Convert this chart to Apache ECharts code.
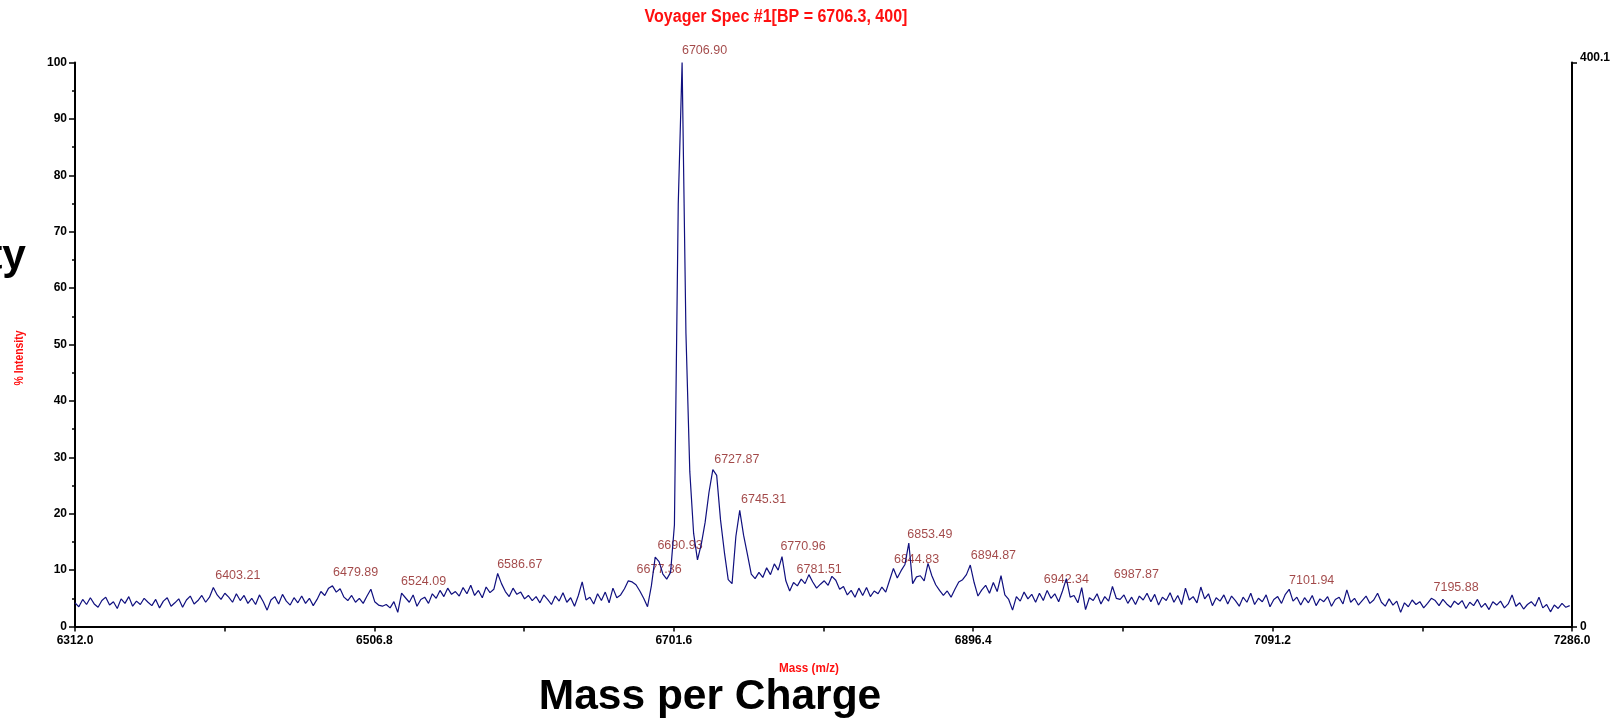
<!DOCTYPE html>
<html>
<head>
<meta charset="utf-8">
<script src="https://cdn.jsdelivr.net/npm/echarts@6/dist/echarts.min.js"></script>
<style>
    html, body { margin: 0; padding: 0; background: #fff; }
    #chart { width: 1614px; height: 720px; }
</style>
</head>
<body>
<div id="chart"></div>
<script>
// spectrum sampled every 2.5 m/z from 6312.0
const mzStart = 6312;
const mzStep = 2.5;
const intensity = [
    4.2, 3.5, 4.8, 3.9, 5.1, 4.0, 3.4, 4.6, 5.2, 3.8, 4.4, 3.2, 4.9, 4.1, 5.3, 3.6, 4.5, 3.9, 5.0, 4.3,
    3.7, 4.8, 3.3, 4.5, 5.1, 3.6, 4.2, 4.9, 3.4, 4.7, 5.4, 4.0, 4.6, 5.5, 4.3, 5.2, 6.9, 5.6, 4.8, 5.9,
    5.2, 4.3, 5.8, 4.6, 5.5, 4.1, 5.0, 3.9, 5.6, 4.4, 2.9, 4.7, 5.3, 4.0, 5.7, 4.5, 3.8, 5.1, 4.2, 5.4,
    4.1, 5.0, 3.7, 4.8, 6.2, 5.5, 6.8, 7.2, 6.1, 6.7, 5.2, 4.6, 5.5, 4.3, 5.0, 4.1, 5.4, 6.6, 4.4, 3.8,
    3.6, 3.9, 3.3, 4.4, 2.5, 5.9, 5.1, 4.3, 5.6, 3.6, 4.8, 5.2, 4.1, 5.8, 5.0, 6.4, 5.3, 6.8, 5.7, 6.2,
    5.4, 6.9, 5.8, 7.3, 5.5, 6.4, 5.1, 7.0, 6.0, 6.6, 9.4, 7.6, 6.2, 5.3, 6.8, 5.7, 6.1, 4.9, 5.5, 4.6,
    5.3, 4.2, 5.6, 4.8, 3.9, 5.4, 4.5, 6.0, 4.3, 5.1, 3.6, 5.5, 7.9, 4.7, 5.2, 4.0, 5.8, 4.6, 6.1, 4.2,
    6.8, 5.1, 5.6, 6.7, 8.1, 7.9, 7.4, 6.3, 5.0, 3.5, 7.2, 12.3, 11.5, 9.3, 8.4, 9.6, 18.0, 75.0, 100.0, 52.0,
    27.5, 16.5, 11.8, 14.6, 18.5, 23.8, 27.8, 26.8, 18.9, 13.2, 8.3, 7.6, 16.0, 20.6, 16.2, 12.8, 9.3, 8.5, 9.6, 8.7,
    10.4, 9.2, 11.1, 10.0, 12.4, 8.1, 6.3, 7.8, 7.2, 8.4, 7.6, 9.2, 7.9, 6.8, 7.5, 8.1, 7.3, 8.9, 8.2, 6.6,
    7.1, 5.6, 6.4, 5.2, 6.8, 5.5, 6.9, 5.3, 6.3, 5.8, 7.0, 6.1, 8.2, 10.3, 8.6, 9.9, 11.0, 14.8, 7.6, 8.8,
    9.0, 8.1, 11.2, 9.0, 7.4, 6.4, 5.5, 6.3, 5.2, 6.6, 7.9, 8.3, 9.2, 10.9, 7.8, 5.4, 6.5, 7.3, 5.9, 7.8,
    6.2, 9.0, 5.6, 4.8, 2.9, 5.3, 4.5, 6.1, 4.9, 5.7, 4.3, 5.9, 4.6, 6.4, 5.0, 5.8, 4.4, 6.3, 8.5, 5.2,
    5.5, 4.2, 6.9, 3.0, 5.1, 4.6, 5.8, 4.0, 5.3, 4.5, 7.1, 5.0, 4.8, 5.6, 4.1, 5.2, 3.9, 5.4, 4.7, 5.9,
    4.4, 5.7, 3.8, 5.2, 4.6, 6.0, 4.3, 5.5, 3.9, 6.8, 4.7, 5.3, 4.2, 7.0, 4.9, 5.8, 3.7, 5.1, 4.5, 5.6,
    4.0, 5.4, 4.6, 3.6, 5.2, 4.3, 5.9, 3.9, 5.0, 4.4, 5.6, 3.5, 4.8, 5.3, 4.1, 5.7, 6.6, 4.5, 5.2, 3.8,
    5.1, 4.2, 5.5, 3.7, 4.9, 4.4, 5.3, 3.6, 4.8, 5.2, 4.0, 6.5, 4.3, 5.0, 3.8, 4.6, 5.4, 4.1, 4.7, 5.9,
    4.3, 3.6, 4.9, 3.8, 4.5, 2.5, 4.2, 3.5, 4.7, 3.9, 4.4, 3.3, 4.1, 5.0, 4.6, 3.7, 4.8, 4.0, 3.4, 4.5,
    3.9, 4.6, 3.2, 4.3, 3.7, 4.8, 3.4, 4.1, 3.0, 4.4, 3.8, 4.5, 3.3, 4.0, 5.6, 3.6, 4.2, 3.1, 3.9, 4.4,
    3.6, 5.2, 3.3, 3.9, 2.6, 3.8, 3.2, 4.1, 3.4, 3.7
];

// labelled peaks and the height the label sits at
const peakMasses = [6403.21, 6479.89, 6524.09, 6586.67, 6677.36, 6690.93, 6706.90, 6727.87, 6745.31,
    6770.96, 6781.51, 6844.83, 6853.49, 6894.87, 6942.34, 6987.87, 7101.94, 7195.88];
const peakLabelY = [7.9, 8.4, 6.9, 9.9, 9.0, 13.2, 101.0, 28.4, 21.4,
    13.0, 9.0, 10.8, 15.2, 11.4, 7.2, 8.0, 7.0, 5.8];

const massTicks = { min: 6312.0, max: 7286.0, step: 194.8 };
const rightAxis = { min: 0, max: 400.1 };

const sans = '"Liberation Sans", Arial, sans-serif';

const spectrum = intensity.map((v, i) => [mzStart + i * mzStep, v]);
const peaks = peakMasses.map((m, i) => [m, peakLabelY[i]]);

const chart = echarts.init(document.getElementById('chart'));
chart.setOption({
    animation: false,
    backgroundColor: '#fff',
    grid: { left: 75, right: 42, top: 62.5, bottom: 93.5 },
    xAxis: {
        type: 'value',
        min: massTicks.min,
        max: massTicks.max,
        interval: massTicks.step,
        axisLine: { lineStyle: { color: '#000', width: 2 } },
        axisTick: { length: 5, lineStyle: { color: '#000', width: 1.5 } },
        minorTick: { show: true, splitNumber: 2, length: 5, lineStyle: { color: '#000', width: 1.5 } },
        splitLine: { show: false },
        axisLabel: {
            margin: 8,
            color: '#000',
            fontFamily: sans,
            fontWeight: 'bold',
            fontSize: 12,
            formatter: v => v.toFixed(1)
        }
    },
    yAxis: [{
        type: 'value',
        min: 0,
        max: 100,
        interval: 10,
        axisLine: { show: true, lineStyle: { color: '#000', width: 2 } },
        axisTick: { show: true, length: 6, lineStyle: { color: '#000', width: 1.5 } },
        minorTick: { show: true, splitNumber: 2, length: 3, lineStyle: { color: '#000', width: 1.5 } },
        splitLine: { show: false },
        axisLabel: {
            margin: 8,
            color: '#000',
            fontFamily: sans,
            fontWeight: 'bold',
            fontSize: 12
        }
    }, {
        type: 'value',
        position: 'right',
        min: rightAxis.min,
        max: rightAxis.max,
        interval: rightAxis.max,
        axisLine: { show: true, lineStyle: { color: '#000', width: 2 } },
        axisTick: { show: true, length: 5, lineStyle: { color: '#000', width: 1.5 } },
        splitLine: { show: false },
        axisLabel: {
            margin: 8,
            color: '#000',
            fontFamily: sans,
            fontWeight: 'bold',
            fontSize: 12,
            formatter: v => v === 0 ? '0' : '{hi|' + v.toFixed(1) + '}',
            rich: { hi: { fontFamily: sans, fontWeight: 'bold', fontSize: 12, padding: [0, 0, 10, 0] } }
        }
    }],
    series: [{
        type: 'line',
        data: spectrum,
        showSymbol: false,
        symbol: 'none',
        lineStyle: { color: '#10107f', width: 1.2 },
        silent: true
    }, {
        type: 'scatter',
        data: peaks,
        symbolSize: 0,
        clip: false,
        silent: true,
        label: {
            show: true,
            position: [0, 0],
            align: 'left',
            verticalAlign: 'bottom',
            color: '#8b1a1a',
            fontFamily: sans,
            fontSize: 12.5,
            formatter: p => p.value[0].toFixed(2)
        }
    }],
    graphic: [{
        type: 'text',
        x: 776, y: 17,
        scaleX: 0.89,
        style: {
            x: 0, y: 0,
            text: 'Voyager Spec #1[BP = 6706.3, 400]',
            fill: '#ff1010',
            font: 'bold 18px ' + sans,
            textAlign: 'center',
            textVerticalAlign: 'middle'
        }
    }, {
        type: 'text',
        rotation: Math.PI / 2,
        x: 20, y: 358,
        scaleX: 0.87,
        style: {
            x: 0, y: 0,
            text: '% Intensity',
            fill: '#ff1010',
            font: 'bold 12px ' + sans,
            textAlign: 'center',
            textVerticalAlign: 'middle'
        }
    }, {
        type: 'text',
        x: 809, y: 668,
        scaleX: 0.9,
        style: {
            x: 0, y: 0,
            text: 'Mass (m/z)',
            fill: '#ff1010',
            font: 'bold 13px ' + sans,
            textAlign: 'center',
            textVerticalAlign: 'middle'
        }
    }, {
        type: 'text',
        style: {
            x: 710, y: 697,
            text: 'Mass per Charge',
            fill: '#000',
            font: 'bold 42.5px ' + sans,
            textAlign: 'center',
            textVerticalAlign: 'middle'
        }
    }, {
        type: 'text',
        style: {
            x: 26, y: 257,
            text: 'Intensity',
            fill: '#000',
            font: 'bold 42.5px ' + sans,
            textAlign: 'right',
            textVerticalAlign: 'middle'
        }
    }]
});
</script>
</body>
</html>
